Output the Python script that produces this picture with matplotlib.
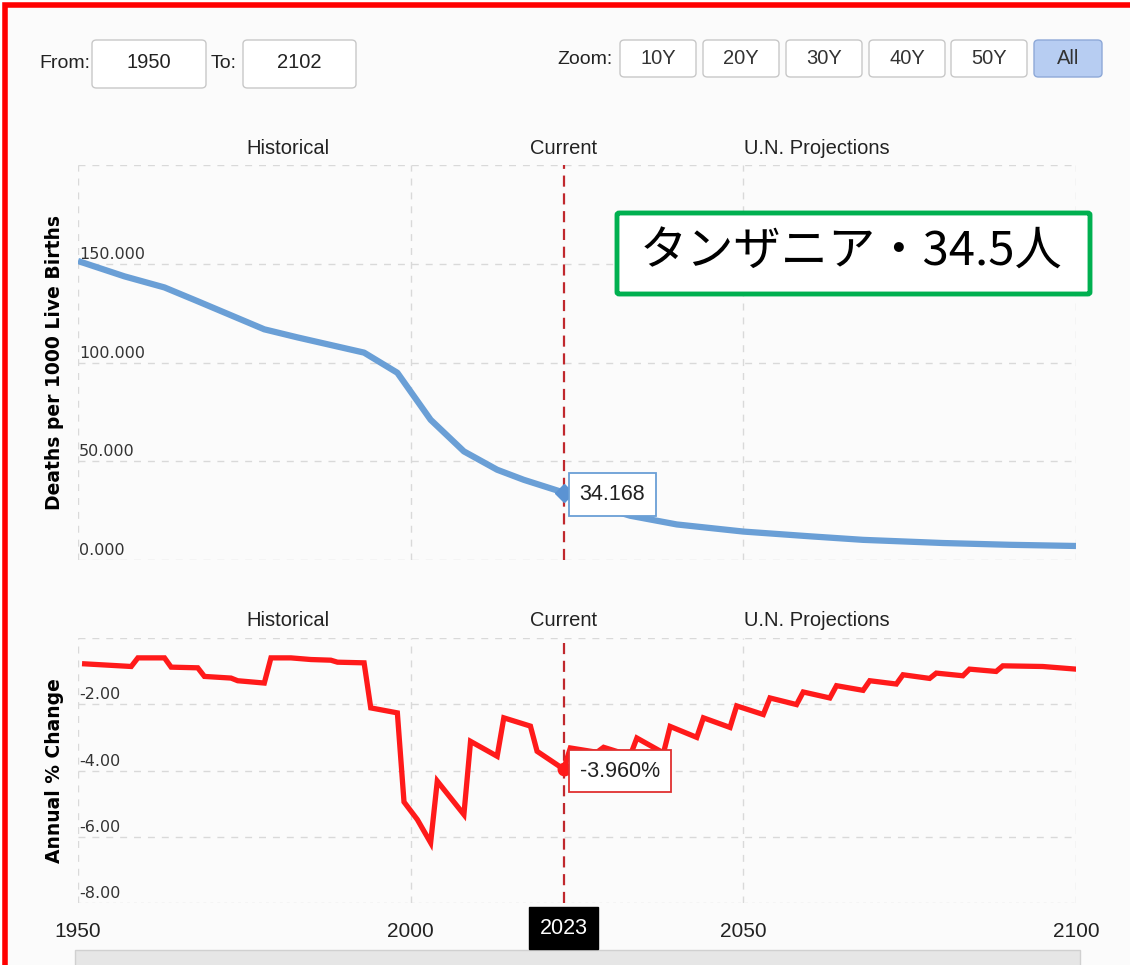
import matplotlib
matplotlib.use("Agg")
import matplotlib.pyplot as plt
from matplotlib.patches import FancyBboxPatch, Rectangle
from matplotlib import font_manager

# ---------------- data ----------------
years_top = [1950, 1957, 1963, 1968, 1978, 1983, 1993, 1998, 2003, 2008, 2013,
             2017, 2023, 2027, 2033, 2040, 2050, 2060, 2068, 2080, 2090, 2100]
deaths = [151.4, 143.6, 138.0, 131.0, 116.8, 112.7, 105.0, 94.8, 71.0, 55.0, 45.7,
          40.6, 34.168, 28.5, 22.4, 18.0, 14.4, 12.0, 10.2, 8.6, 7.7, 7.1]

years_pct = [1951, 1958, 1959, 1963, 1964, 1968, 1969, 1973, 1974, 1978, 1979,
             1982, 1985, 1988, 1989, 1993, 1994, 1998, 1999, 2001, 2003, 2004,
             2008, 2009, 2013, 2014, 2018, 2019, 2023, 2024, 2028, 2029, 2033,
             2034, 2038, 2039, 2043, 2044, 2048, 2049, 2053, 2054, 2058, 2059,
             2063, 2064, 2068, 2069, 2073, 2074, 2078, 2079, 2083, 2084, 2088,
             2089, 2095, 2100]
pct = [-0.78, -0.86, -0.60, -0.60, -0.88, -0.90, -1.16, -1.21, -1.29, -1.36, -0.60,
       -0.60, -0.65, -0.67, -0.73, -0.75, -2.11, -2.26, -4.95, -5.48, -6.18, -4.32,
       -5.33, -3.12, -3.57, -2.41, -2.66, -3.42, -3.96, -3.32, -3.45, -3.30, -3.55,
       -3.02, -3.47, -2.67, -3.00, -2.41, -2.70, -2.05, -2.31, -1.81, -2.01, -1.63,
       -1.81, -1.44, -1.58, -1.29, -1.39, -1.11, -1.22, -1.06, -1.14, -0.94, -1.01,
       -0.84, -0.86, -0.94]

current_year = 2023
current_death = 34.168
current_pct = -3.960

top_ticks = [0, 50, 100, 150, 200]
top_labels = ["0.000", "50.000", "100.000", "150.000", ""]
bot_ticks = [-8, -6, -4, -2, 0]
bot_labels = ["-8.00", "-6.00", "-4.00", "-2.00", ""]
x_ticks = [1950, 2000, 2050, 2100]
sections = ["Historical", "Current", "U.N. Projections"]
section_x = [1981.5, 2023, 2061]
zoom_buttons = ["10Y", "20Y", "30Y", "40Y", "50Y", "All"]
title_text = "タンザニア・34.5人"

# ---------------- fonts ----------------
avail = {f.name for f in font_manager.fontManager.ttflist}
ui_font = "Liberation Sans Narrow" if "Liberation Sans Narrow" in avail else "Liberation Sans"
plt.rcParams["font.family"] = [ui_font, "DejaVu Sans"]

W, H = 1130, 965
fig = plt.figure(figsize=(W / 100, H / 100), dpi=100)
fig.patch.set_facecolor("white")


def fx(px):
    return px / W


def fy(py):
    return 1 - py / H


# background panel with red frame
fig.add_artist(Rectangle((fx(5), fy(H + 20)), fx(W + 20), (H + 15) / H,
                         transform=fig.transFigure, facecolor="#fbfbfb",
                         edgecolor="#ff0000", linewidth=4, zorder=0))

# ---------------- controls ----------------
def box(x0, y0, x1, y1, fc="white", ec="#c8c8c8", lw=1.0):
    fig.add_artist(FancyBboxPatch((fx(x0), fy(y1)), fx(x1 - x0), (y1 - y0) / H,
                                  boxstyle="round,pad=0,rounding_size=0.004",
                                  transform=fig.transFigure, facecolor=fc,
                                  edgecolor=ec, linewidth=lw, zorder=2))

fig.text(fx(39), fy(63), "From:", fontsize=14, va="center", ha="left", color="#222222")
box(92, 40, 206, 88)
fig.text(fx(149), fy(63), "1950", fontsize=14.5, va="center", ha="center", color="#222222")
fig.text(fx(211), fy(63), "To:", fontsize=14, va="center", ha="left", color="#222222")
box(243, 40, 356, 88)
fig.text(fx(299), fy(63), "2102", fontsize=14.5, va="center", ha="center", color="#222222")

fig.text(fx(557), fy(59), "Zoom:", fontsize=14, va="center", ha="left", color="#222222")
bx = [620, 703, 786, 869, 951, 1034]
bw = [76, 76, 76, 76, 76, 68]
for i, lab in enumerate(zoom_buttons):
    if lab == "All":
        box(bx[i], 40, bx[i] + bw[i], 77, fc="#b7cdf2", ec="#8ea9d8")
    else:
        box(bx[i], 40, bx[i] + bw[i], 77, fc="white", ec="#c8c8c8")
    fig.text(fx(bx[i] + bw[i] / 2), fy(59), lab, fontsize=14.5, va="center",
             ha="center", color="#333333")

# ---------------- axes ----------------
left, right = 78, 1076
ax1 = fig.add_axes([fx(left), fy(560), fx(right - left), (560 - 165) / H])
ax2 = fig.add_axes([fx(left), fy(903), fx(right - left), (903 - 638) / H])

grid_col = "#d9d9d9"
for ax in (ax1, ax2):
    ax.set_facecolor("none")
    for s in ax.spines.values():
        s.set_visible(False)
    ax.set_xlim(1950, 2100)
    ax.set_xticks(x_ticks)
    ax.tick_params(length=0)
    for xv in x_ticks:
        ax.axvline(xv, color=grid_col, lw=1, ls=(0, (5, 5)), zorder=1)
    ax.axvline(current_year, color="#c0282d", lw=1.6, ls=(0, (5, 3)), zorder=3)

ax1.set_ylim(0, 200)
ax1.set_yticks(top_ticks)
ax1.set_yticklabels([])
ax1.set_xticklabels([])
for t, lab in zip(top_ticks, top_labels):
    ax1.axhline(t, color=grid_col, lw=1, ls=(0, (5, 5)), zorder=1)
    if lab:
        ax1.annotate(lab, xy=(1950, t), xytext=(1, 2), textcoords="offset pixels",
                     ha="left", va="bottom", fontsize=11.5, color="#333333",
                     family=["DejaVu Sans"])

ax2.set_ylim(-8, 0)
ax2.set_yticks(bot_ticks)
ax2.set_yticklabels([])
for t, lab in zip(bot_ticks, bot_labels):
    ax2.axhline(t, color=grid_col, lw=1, ls=(0, (5, 5)) if t != -8 else (0, (2, 3)), zorder=1)
    if lab:
        ax2.annotate(lab, xy=(1950, t), xytext=(1, 2), textcoords="offset pixels",
                     ha="left", va="bottom", fontsize=11.5, color="#333333",
                     family=["DejaVu Sans"])
ax2.set_xticklabels([str(v) for v in x_ticks], fontsize=15, color="#222222")
ax2.tick_params(axis="x", pad=14)

# lines
ax1.plot(years_top, deaths, color="#6a9fd6", lw=4.5, solid_capstyle="butt",
         solid_joinstyle="round", zorder=4)
ax1.plot([current_year], [current_death], marker="D", ms=9, color="#5b93d3", zorder=6)
ax2.plot(years_pct, pct, color="#ff1a1a", lw=3.8, solid_joinstyle="miter", zorder=4)
ax2.plot([current_year], [current_pct], marker="o", ms=9, color="#ff1a1a", zorder=6)

# tooltips
ax1.annotate(f"{current_death:.3f}", xy=(current_year, current_death), xytext=(16, -2),
             textcoords="offset pixels", ha="left", va="center", fontsize=15.5,
             color="#222222", zorder=7,
             bbox=dict(boxstyle="square,pad=0.5", fc="white", ec="#6a9fd6", lw=1.3))
ax2.annotate(f"{current_pct:.3f}%", xy=(current_year, current_pct), xytext=(16, -2),
             textcoords="offset pixels", ha="left", va="center", fontsize=15.5,
             color="#222222", zorder=7,
             bbox=dict(boxstyle="square,pad=0.5", fc="white", ec="#e03030", lw=1.3))

# section labels
for ax, ypix in ((ax1, 148), (ax2, 620)):
    for name, xv in zip(sections, section_x):
        xpix = ax.transData.transform((xv, 0))[0]
        fig.text(xpix / W, fy(ypix), name, fontsize=14.5, ha="center", va="center",
                 color="#222222")

# y-axis titles
fig.text(fx(55), fy(362), "Deaths per 1000 Live Births", rotation=90, fontsize=13.5,
         fontweight="bold", ha="center", va="center", family=["DejaVu Sans"], color="black")
fig.text(fx(55), fy(771), "Annual % Change", rotation=90, fontsize=13.5,
         fontweight="bold", ha="center", va="center", family=["DejaVu Sans"], color="black")

# current-year badge on axis
xcur = ax2.transData.transform((current_year, 0))[0]
fig.text(xcur / W, fy(928), str(current_year), fontsize=15.5, ha="center", va="center",
         color="white", zorder=8,
         bbox=dict(boxstyle="square,pad=0.5", fc="black", ec="black"))

# scrollbar strip
fig.add_artist(Rectangle((fx(75), fy(966)), fx(1005), 16 / H, transform=fig.transFigure,
                         facecolor="#e6e6e6", edgecolor="#d0d0d0", lw=1, zorder=2))

# title box
fig.add_artist(FancyBboxPatch((fx(617), fy(294)), fx(473), (294 - 213) / H,
                              boxstyle="round,pad=0,rounding_size=0.002",
                              transform=fig.transFigure, facecolor="white",
                              edgecolor="#00b050", linewidth=3.5, zorder=9))
fig.text(fx(851), fy(252), title_text, fontsize=34, ha="center", va="center",
         family=["Noto Sans CJK JP", "DejaVu Sans"], color="black", zorder=10)

fig.savefig("out.png", dpi=100)
